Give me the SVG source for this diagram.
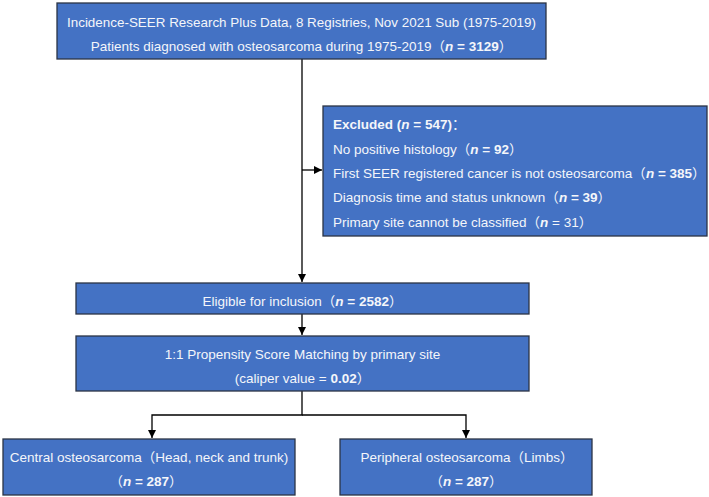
<svg xmlns="http://www.w3.org/2000/svg" width="709" height="497" viewBox="0 0 709 497">
<defs>
<marker id="arr" markerWidth="8" markerHeight="8" refX="8" refY="4" orient="auto" markerUnits="userSpaceOnUse">
<path d="M0,0 L8,4 L0,8 Z" fill="#000"/>
</marker>
<style>
.box{fill:#4472C4;stroke:#2B3446;stroke-width:1.3}
.t{font-family:"Liberation Sans","Noto Sans CJK SC",Arial,sans-serif;font-size:13.5px;fill:#F4F6FA}
.c{text-anchor:middle}
.b{font-weight:bold}
.i{font-style:italic;font-weight:bold}
.ln{stroke:#000;stroke-width:1.3;fill:none}
</style>
</defs>
<rect width="709" height="497" fill="#fff"/>
<g id="connectors">
<path class="ln" d="M302,59 V282" marker-end="url(#arr)"/>
<path class="ln" d="M302,170 H322" marker-end="url(#arr)"/>
<path class="ln" d="M302,314 V335" marker-end="url(#arr)"/>
<path class="ln" d="M302,391 V415 H152 V438" marker-end="url(#arr)"/>
<path class="ln" d="M302,415 H466 V438" marker-end="url(#arr)"/>
</g>
<g id="source">
<rect class="box" x="57" y="3" width="489" height="56"/>
<text class="t c" x="301.5" y="27" textLength="469" lengthAdjust="spacingAndGlyphs">Incidence-SEER Research Plus Data, 8 Registries, Nov 2021 Sub (1975-2019)</text>
<text class="t c" x="301.5" y="51">Patients diagnosed with osteosarcoma during 1975-2019（<tspan class="i">n</tspan><tspan class="b"> = 3129</tspan>）</text>
</g>
<g id="excluded">
<rect class="box" x="323" y="106" width="384" height="130"/>
<text class="t" x="333" y="129"><tspan class="b">Excluded (</tspan><tspan class="i">n</tspan><tspan class="b"> = 547)</tspan>：</text>
<text class="t" x="333" y="154">No positive histology（<tspan class="i">n</tspan><tspan class="b"> = 92</tspan>）</text>
<text class="t" x="333" y="178">First SEER registered cancer is not osteosarcoma（<tspan class="i">n</tspan><tspan class="b"> = 385</tspan>）</text>
<text class="t" x="333" y="202">Diagnosis time and status unknown（<tspan class="i">n</tspan><tspan class="b"> = 39</tspan>）</text>
<text class="t" x="333" y="227">Primary site cannot be classified（<tspan class="i">n</tspan> = 31）</text>
</g>
<g id="eligible">
<rect class="box" x="76" y="283" width="453" height="31"/>
<text class="t c" x="302.5" y="306">Eligible for inclusion（<tspan class="i">n</tspan><tspan class="b"> = 2582</tspan>）</text>
</g>
<g id="psm">
<rect class="box" x="76" y="336" width="453" height="55"/>
<text class="t c" x="302.5" y="359">1:1 Propensity Score Matching by primary site</text>
<text class="t c" x="302.5" y="383">(caliper value = <tspan class="b">0.02</tspan>）</text>
</g>
<g id="central">
<rect class="box" x="3" y="439" width="292" height="56"/>
<text class="t c" x="149" y="462">Central osteosarcoma（Head, neck and trunk)</text>
<text class="t c" x="146" y="486">（<tspan class="i">n</tspan><tspan class="b"> = 287</tspan>）</text>
</g>
<g id="peripheral">
<rect class="box" x="340" y="439" width="252" height="56"/>
<text class="t c" x="467" y="462">Peripheral osteosarcoma（Limbs）</text>
<text class="t c" x="466" y="486">（<tspan class="i">n</tspan><tspan class="b"> = 287</tspan>）</text>
</g>
</svg>
